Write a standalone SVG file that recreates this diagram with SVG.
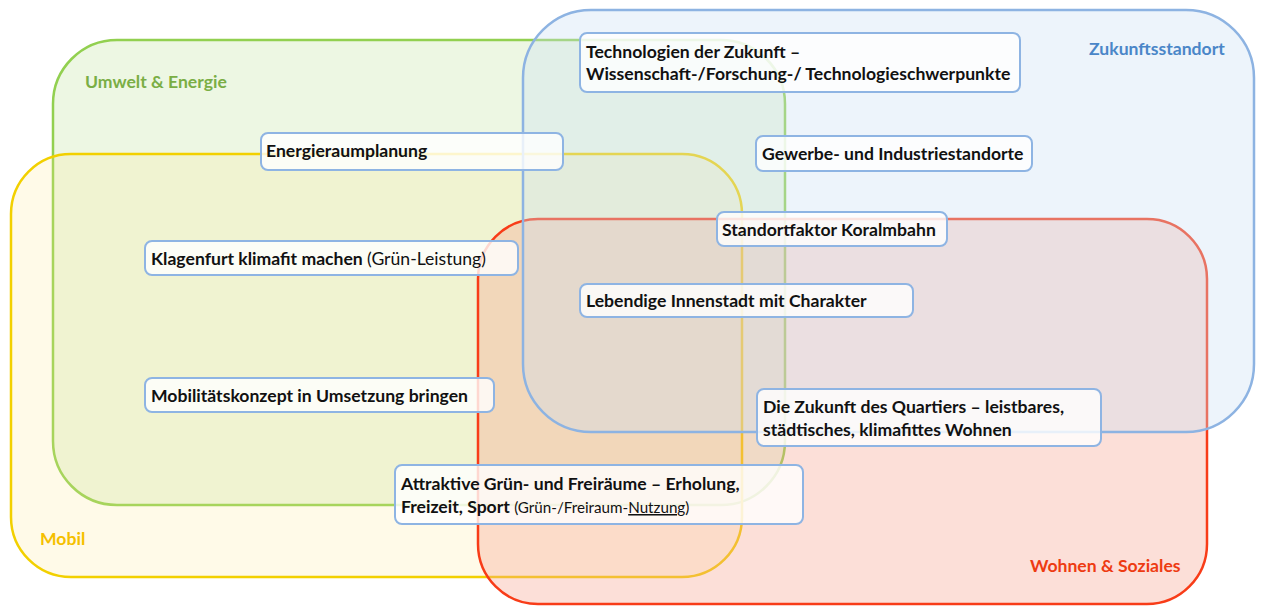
<svg xmlns="http://www.w3.org/2000/svg" width="1261" height="606" viewBox="0 0 1261 606">
<style>
.area{stroke-width:2.5}
.box{fill:#ffffff;fill-opacity:0.8;stroke:#8eb4e3;stroke-width:2}
.t{font-family:Lato,"Open Sans","Liberation Sans",sans-serif;font-size:17.6px;font-weight:bold;fill:#111111}
.r{font-weight:normal}
.s{font-size:15.2px;font-weight:normal}
.lbl{font-family:Lato,"Open Sans","Liberation Sans",sans-serif;font-size:17.6px;font-weight:bold}
</style>
<rect width="1261" height="606" fill="#ffffff"/>
<g id="areas">
<g id="umwelt">
<rect class="area" x="53" y="40" width="732" height="465" rx="64" fill="#92d050" fill-opacity="0.16" stroke="#92d050"/>
</g>
<g id="mobil">
<rect class="area" x="11" y="154" width="731" height="423" rx="60" fill="#ffe68c" fill-opacity="0.2" stroke="#f2d000"/>
</g>
<g id="wohnen">
<rect class="area" x="478" y="219" width="729" height="385" rx="60" fill="#f6a290" fill-opacity="0.35" stroke="#f83c18"/>
</g>
<g id="zukunft">
<rect class="area" x="523" y="10" width="731" height="422" rx="68" fill="#c9def2" fill-opacity="0.34" stroke="#8db3e2"/>
</g>
<text class="lbl" x="85" y="88" fill="#7aae45">Umwelt &amp; Energie</text>
<text class="lbl" x="40" y="545" fill="#f5bf00">Mobil</text>
<text class="lbl" x="1089" y="55" fill="#4a86c8">Zukunftsstandort</text>
<text class="lbl" x="1030" y="572" fill="#ee3b12">Wohnen &amp; Soziales</text>
</g>
<g id="connectors"></g>
<g id="n1">
<rect class="box" x="580" y="33" width="440" height="59" rx="7"/>
<text class="t" x="586" y="58">Technologien der Zukunft –</text>
<text class="t" x="586" y="80">Wissenschaft-/Forschung-/ Technologieschwerpunkte</text>
</g>
<g id="n2">
<rect class="box" x="261" y="133" width="302" height="37" rx="7"/>
<text class="t" x="266" y="157">Energieraumplanung</text>
</g>
<g id="n3">
<rect class="box" x="756" y="136" width="276" height="35" rx="7"/>
<text class="t" x="762" y="160">Gewerbe- und Industriestandorte</text>
</g>
<g id="n4">
<rect class="box" x="717" y="212" width="230" height="34" rx="7"/>
<text class="t" x="722" y="236">Standortfaktor Koralmbahn</text>
</g>
<g id="n5">
<rect class="box" x="145" y="241" width="373" height="34" rx="7"/>
<text class="t" x="151" y="265">Klagenfurt klimafit machen <tspan class="r">(Grün-Leistung)</tspan></text>
</g>
<g id="n6">
<rect class="box" x="580" y="284" width="333" height="33" rx="7"/>
<text class="t" x="586" y="307">Lebendige Innenstadt mit Charakter</text>
</g>
<g id="n7">
<rect class="box" x="145" y="378" width="349" height="34" rx="7"/>
<text class="t" x="151" y="402">Mobilitätskonzept in Umsetzung bringen</text>
</g>
<g id="n8">
<rect class="box" x="757" y="389" width="344" height="57" rx="7"/>
<text class="t" x="763" y="413">Die Zukunft des Quartiers – leistbares,</text>
<text class="t" x="763" y="436">städtisches, klimafittes Wohnen</text>
</g>
<g id="n9">
<rect class="box" x="395" y="465" width="408" height="59" rx="7"/>
<text class="t" x="401" y="490">Attraktive Grün- und Freiräume – Erholung,</text>
<text class="t" x="401" y="513">Freizeit, Sport <tspan class="s">(Grün-/Freiraum-<tspan text-decoration="underline">Nutzung</tspan>)</tspan></text>
</g>
</svg>
